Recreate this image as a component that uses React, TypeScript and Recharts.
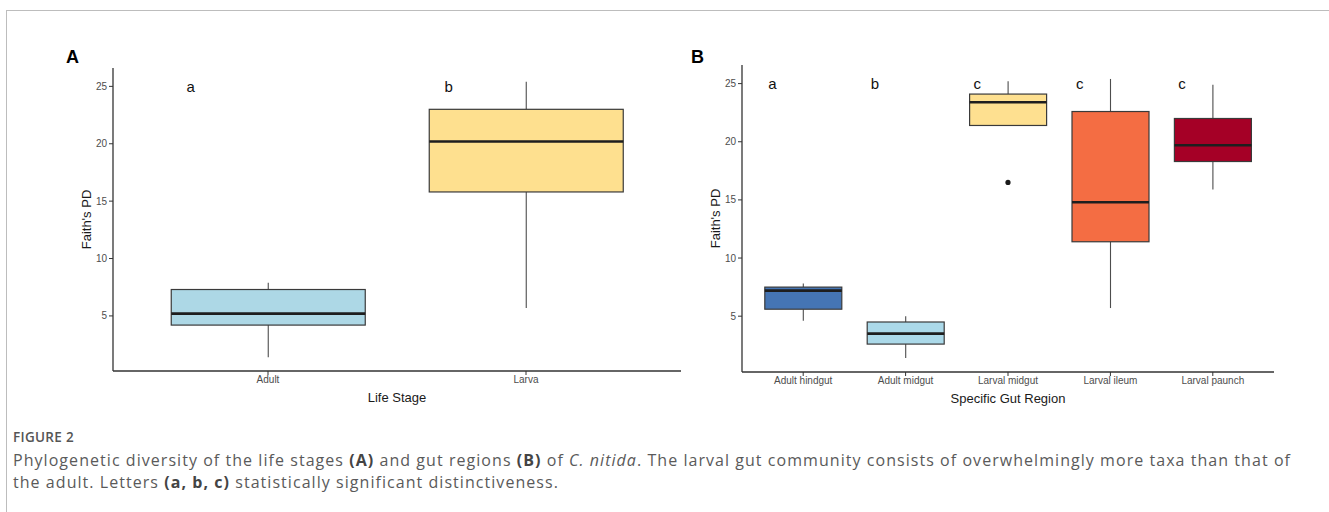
import React from 'react'
import { ComposedChart, Bar, Scatter, XAxis, YAxis } from 'recharts'

// Panel A: Faith's PD by life stage
const stageNames = ['Adult', 'Larva']
const stageMin = [1.4, 5.7]
const stageQ1 = [4.2, 15.8]
const stageMedian = [5.2, 20.2]
const stageQ3 = [7.3, 23.0]
const stageMax = [7.9, 25.4]
const stageOutliers: (number | null)[] = [null, null]
const stageLetters = ['a', 'b']
const stageColors = ['#ADD8E6', '#FEE08F']

// Panel B: Faith's PD by gut region
const regionNames = ['Adult hindgut', 'Adult midgut', 'Larval midgut', 'Larval ileum', 'Larval paunch']
const regionMin = [4.6, 1.4, 21.4, 5.7, 15.9]
const regionQ1 = [5.6, 2.6, 21.4, 11.4, 18.3]
const regionMedian = [7.2, 3.5, 23.4, 14.8, 19.7]
const regionQ3 = [7.5, 4.5, 24.1, 22.6, 22.0]
const regionMax = [7.8, 5.0, 25.2, 25.4, 24.9]
const regionOutliers: (number | null)[] = [null, null, 16.5, null, null]
const regionLetters = ['a', 'b', 'c', 'c', 'c']
const regionColors = ['#4575B4', '#ABD9E9', '#FEE090', '#F46D43', '#A50026']

const yTicks = [5, 10, 15, 20, 25]
const letterY = 25

const font = '"Liberation Sans", Arial, sans-serif'

function buildRows(
  names: string[], mins: number[], q1s: number[], meds: number[], q3s: number[],
  maxs: number[], outs: (number | null)[], letters: string[], colors: string[],
) {
  return names.map((name, i) => ({
    name,
    box: [q1s[i], q3s[i]],
    min: mins[i],
    q1: q1s[i],
    median: meds[i],
    q3: q3s[i],
    max: maxs[i],
    outlier: outs[i],
    letter: letters[i],
    color: colors[i],
  }))
}

// ggplot-style 5% expansion of the y range
function yDomain(mins: number[], maxs: number[], outs: (number | null)[]) {
  const vals = [...mins, ...maxs, ...(outs.filter((v) => v != null) as number[])]
  const lo = Math.min(...vals)
  const hi = Math.max(...vals)
  const pad = (hi - lo) * 0.05
  return [lo - pad, hi + pad]
}

const BoxShape = (props: any) => {
  const { x, y, width, height, payload } = props
  if (!payload || !height) return null
  const { q1, q3, median, min, max, letter, color } = payload
  const ppu = height / (q3 - q1)
  const toY = (v: number) => y + (q3 - v) * ppu
  const cx = x + width / 2
  return (
    <g>
      {max > q3 && <line x1={cx} x2={cx} y1={toY(max)} y2={y} stroke="#4d4d4d" strokeWidth={1.1} />}
      {min < q1 && <line x1={cx} x2={cx} y1={y + height} y2={toY(min)} stroke="#4d4d4d" strokeWidth={1.1} />}
      <rect x={x} y={y} width={width} height={height} fill={color} stroke="#3a3a3a" strokeWidth={1.2} />
      <line x1={x} x2={x + width} y1={toY(median)} y2={toY(median)} stroke="#1e1e1e" strokeWidth={2.6} />
      <text
        x={cx - width * 0.4}
        y={toY(letterY)}
        textAnchor="middle"
        dominantBaseline="central"
        fontFamily={font}
        fontSize={15}
        fill="#111"
      >
        {letter}
      </text>
    </g>
  )
}

const OutlierShape = (props: any) => {
  const { cx, cy, payload } = props
  if (!payload || payload.outlier == null || cx == null || cy == null || isNaN(cy)) return <g />
  return <circle cx={cx} cy={cy} r={2.6} fill="#1a1a1a" />
}

const tickStyle = { fill: '#4d4d4d', fontSize: 10, fontFamily: font }
const titleStyle = { fill: '#1a1a1a', fontSize: 13, fontFamily: font, textAnchor: 'middle' as const }

function BoxPanel({ rows, domain, width, height, margin, padding, xTitle }: any) {
  return (
    <ComposedChart width={width} height={height} data={rows} margin={margin} barCategoryGap="12.5%">
      <XAxis
        dataKey="name"
        type="category"
        interval={0}
        padding={padding}
        height={34}
        tick={tickStyle}
        tickSize={4}
        tickMargin={1}
        stroke="#333"
        axisLine={{ stroke: '#333', strokeWidth: 1.3 }}
        tickLine={{ stroke: '#333' }}
        label={{ value: xTitle, position: 'insideBottom', offset: 3, style: titleStyle }}
      />
      <YAxis
        type="number"
        domain={domain}
        ticks={yTicks}
        width={30}
        tick={tickStyle}
        tickSize={4}
        tickMargin={2}
        axisLine={{ stroke: '#333', strokeWidth: 1.3 }}
        tickLine={{ stroke: '#333' }}
        label={{ value: "Faith's PD", angle: -90, position: 'insideLeft', offset: 3, style: titleStyle }}
      />
      <Bar dataKey="box" shape={<BoxShape />} isAnimationActive={false} />
      <Scatter dataKey="outlier" shape={<OutlierShape />} isAnimationActive={false} />
    </ComposedChart>
  )
}

const stageRows = buildRows(stageNames, stageMin, stageQ1, stageMedian, stageQ3, stageMax, stageOutliers, stageLetters, stageColors)
const regionRows = buildRows(regionNames, regionMin, regionQ1, regionMedian, regionQ3, regionMax, regionOutliers, regionLetters, regionColors)

const panelLabel: React.CSSProperties = {
  position: 'absolute',
  fontFamily: font,
  fontWeight: 700,
  fontSize: 18,
  color: '#000',
  lineHeight: '18px',
}

const captionFont = '"Open Sans", "Noto Sans", sans-serif'

export default function App() {
  return (
    <div style={{ position: 'absolute', left: 0, top: 0, width: 1329, height: 512, background: '#fff', overflow: 'hidden' }}>
      <div
        style={{
          position: 'absolute', left: 6, top: 10, width: 1330, height: 510,
          borderTop: '1px solid #bdbdbd', borderLeft: '1px solid #bdbdbd',
        }}
      />
      <div style={{ ...panelLabel, left: 66, top: 48 }}>A</div>
      <div style={{ ...panelLabel, left: 691, top: 48 }}>B</div>

      <div style={{ position: 'absolute', left: 0, top: 0 }}>
        <BoxPanel
          rows={stageRows}
          domain={yDomain(stageMin, stageMax, stageOutliers)}
          width={690}
          height={420}
          margin={{ top: 68, right: 9, bottom: 15, left: 83 }}
          padding={{ left: 26, right: 26 }}
          xTitle="Life Stage"
        />
      </div>
      <div style={{ position: 'absolute', left: 660, top: 0 }}>
        <BoxPanel
          rows={regionRows}
          domain={yDomain(regionMin, regionMax, regionOutliers)}
          width={625}
          height={420}
          margin={{ top: 65, right: 11, bottom: 14, left: 52 }}
          padding={{ left: 10, right: 10 }}
          xTitle="Specific Gut Region"
        />
      </div>

      <div
        style={{
          position: 'absolute', left: 13, top: 429, fontFamily: captionFont, fontWeight: 600,
          fontSize: 13.5, letterSpacing: 0.3, color: '#555', whiteSpace: 'nowrap', lineHeight: '16px',
        }}
      >
        FIGURE 2
      </div>
      <div
        style={{
          position: 'absolute', left: 13, top: 449, fontFamily: captionFont, fontSize: 16,
          letterSpacing: 1.05, color: '#5a5a5a', whiteSpace: 'nowrap', lineHeight: '22px',
        }}
      >
        <div>
          Phylogenetic diversity of the life stages <b style={{ color: '#444' }}>(A)</b> and gut regions{' '}
          <b style={{ color: '#444' }}>(B)</b> of <i>C. nitida</i>. The larval gut community consists of
          overwhelmingly more taxa than that of
        </div>
        <div>
          the adult. Letters <b style={{ color: '#444' }}>(a, b, c)</b> statistically significant distinctiveness.
        </div>
      </div>
    </div>
  )
}
